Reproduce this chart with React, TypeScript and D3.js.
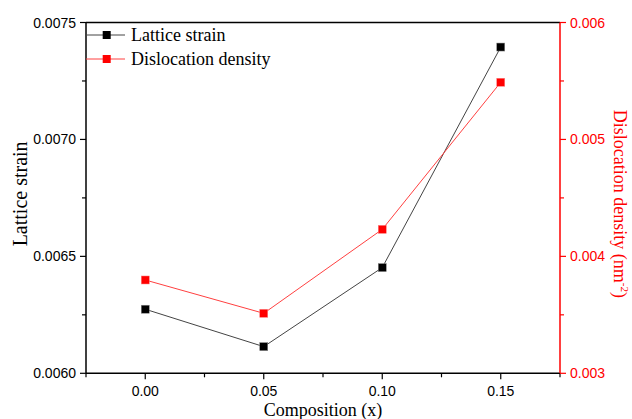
import React from "react";
import * as d3 from "d3";

const compositions = [0.0, 0.05, 0.1, 0.15];
const latticeStrain = [0.006274, 0.006114, 0.006452, 0.007395];
const dislocationDensity = [0.003798, 0.003513, 0.004231, 0.005489];
const xTicks = [0.0, 0.05, 0.1, 0.15];
const xMinorTicks = [-0.025, 0.025, 0.075, 0.125, 0.175];
const leftTicks = [0.006, 0.0065, 0.007, 0.0075];
const leftMinor = [0.00625, 0.00675, 0.00725];
const rightTicks = [0.003, 0.004, 0.005, 0.006];
const rightMinor = [0.0035, 0.0045, 0.0055];

const W = 632, H = 419;
const L = 86, R = 560, T = 22.5, B = 373.3;
const sans = "'Liberation Sans', Arial, sans-serif";
const serif = "'Liberation Serif', 'Times New Roman', serif";
const RED = "#ff0000";

export default function App() {
  const x = d3.scaleLinear().domain([-0.025, 0.175]).range([L, R]);
  const yL = d3.scaleLinear().domain([0.006, 0.0075]).range([B, T]);
  const yR = d3.scaleLinear().domain([0.003, 0.006]).range([B, T]);
  const lineL = d3.line<number>().x((_, i) => x(compositions[i])).y((d) => yL(d));
  const lineR = d3.line<number>().x((_, i) => x(compositions[i])).y((d) => yR(d));
  const ms = 8;
  return (
    <svg width={W} height={H} style={{ position: "absolute", left: 0, top: 0, background: "#fff" }}>
      <path d={lineL(latticeStrain) || ""} fill="none" stroke="#444" strokeWidth={1} />
      <path d={lineR(dislocationDensity) || ""} fill="none" stroke="#ff4040" strokeWidth={1} />
      {latticeStrain.map((v, i) => (
        <rect key={"l" + i} x={x(compositions[i]) - ms / 2} y={yL(v) - ms / 2} width={ms} height={ms} fill="#000" stroke="#888" strokeWidth={0.5} />
      ))}
      {dislocationDensity.map((v, i) => (
        <rect key={"r" + i} x={x(compositions[i]) - ms / 2} y={yR(v) - ms / 2} width={ms} height={ms} fill={RED} stroke="#ff8080" strokeWidth={0.5} />
      ))}
      <line x1={L} x2={R} y1={T} y2={T} stroke="#000" strokeWidth={1.5} />
      <line x1={L} x2={R} y1={B} y2={B} stroke="#000" strokeWidth={1.5} />
      <line x1={L} x2={L} y1={T} y2={B} stroke="#000" strokeWidth={1.5} />
      <line x1={R} x2={R} y1={T} y2={B} stroke={RED} strokeWidth={1.5} />
      {xTicks.map((t) => (
        <g key={"xt" + t}>
          <line x1={x(t)} x2={x(t)} y1={B} y2={B + 6} stroke="#000" strokeWidth={1.2} />
          <text x={x(t)} y={B + 23} fontFamily={sans} fontSize={14} textAnchor="middle">{t.toFixed(2)}</text>
        </g>
      ))}
      {xMinorTicks.map((t) => (
        <line key={"xm" + t} x1={x(t)} x2={x(t)} y1={B} y2={B + 4} stroke="#000" strokeWidth={1.2} />
      ))}
      {leftTicks.map((t) => (
        <g key={"lt" + t}>
          <line x1={L - 6} x2={L} y1={yL(t)} y2={yL(t)} stroke="#000" strokeWidth={1.2} />
          <text x={L - 10} y={yL(t) + 5} fontFamily={sans} fontSize={14} textAnchor="end">{t.toFixed(4)}</text>
        </g>
      ))}
      {leftMinor.map((t) => (
        <line key={"lm" + t} x1={L - 4} x2={L} y1={yL(t)} y2={yL(t)} stroke="#000" strokeWidth={1.2} />
      ))}
      {rightTicks.map((t) => (
        <g key={"rt" + t}>
          <line x1={R} x2={R + 6} y1={yR(t)} y2={yR(t)} stroke={RED} strokeWidth={1.2} />
          <text x={R + 10} y={yR(t) + 5} fontFamily={sans} fontSize={14} fill={RED}>{t.toFixed(3)}</text>
        </g>
      ))}
      {rightMinor.map((t) => (
        <line key={"rm" + t} x1={R} x2={R + 4} y1={yR(t)} y2={yR(t)} stroke={RED} strokeWidth={1.2} />
      ))}
      <text x={(L + R) / 2} y={416} fontFamily={serif} fontSize={18} textAnchor="middle">Composition (x)</text>
      <text transform={`translate(27,${(T + B) / 2 - 4}) rotate(-90)`} fontFamily={serif} fontSize={20} textAnchor="middle">Lattice strain</text>
      <text transform={`translate(614,${(T + B) / 2 + 6}) rotate(90)`} fontFamily={serif} fontSize={18} textAnchor="middle" fill={RED}>
        Dislocation density (nm<tspan dy={-7} fontSize={11}>-2</tspan><tspan dy={7}>)</tspan>
      </text>
      <line x1={L} x2={125} y1={35} y2={35} stroke="#444" strokeWidth={1} />
      <rect x={106.7 - ms / 2} y={35 - ms / 2} width={ms} height={ms} fill="#000" />
      <text x={131} y={41} fontFamily={serif} fontSize={18}>Lattice strain</text>
      <line x1={L} x2={125} y1={59} y2={59} stroke="#ff4040" strokeWidth={1} />
      <rect x={106.7 - ms / 2} y={59 - ms / 2} width={ms} height={ms} fill={RED} />
      <text x={131} y={65} fontFamily={serif} fontSize={18}>Dislocation density</text>
    </svg>
  );
}
